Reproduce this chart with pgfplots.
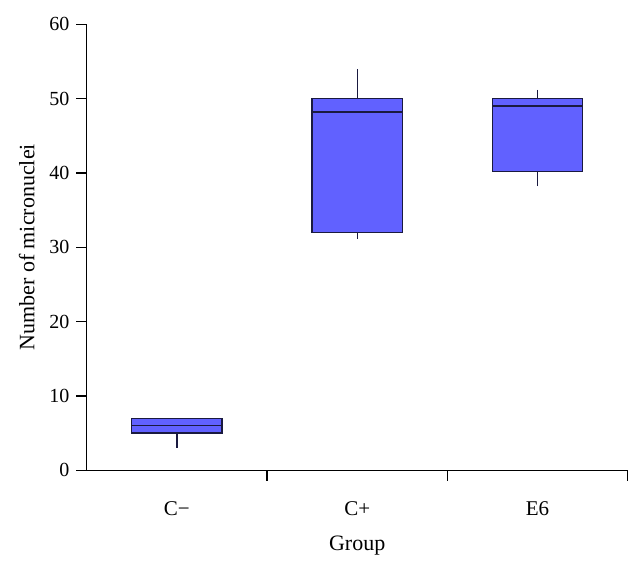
\documentclass[border=0pt]{standalone}
\usepackage{fontspec}
\setmainfont{Liberation Serif}
\usepackage{pgfplots}
\pgfplotsset{compat=1.18}
\usepgfplotslibrary{statistics}
\definecolor{boxfill}{HTML}{6161FF}
\definecolor{boxedge}{HTML}{1A1A40}
\begin{document}
\fontsize{20}{24}\selectfont
\begin{tikzpicture}
\begin{axis}[
  scale only axis, width=541pt, height=446pt,
  xmin=0.5, xmax=3.5, ymin=0, ymax=60,
  clip=false,
  axis lines*=left,
  axis line style={line width=1.3pt, black},
  tick align=outside,
  tick style={line width=1.3pt, black},
  major tick length=10.5pt,
  ytick={0,10,20,30,40,50,60},
  xtick={1.5,2.5,3.5},
  xticklabels={},
  extra x ticks={1,2,3},
  extra x tick labels={C−,C+,E6},
  extra x tick style={major tick length=0pt, ticklabel style={yshift=-24pt, font=\fontsize{21}{25}\selectfont}},
  /pgf/number format/assume math mode=true,
  ticklabel style={font=\fontsize{20}{24}\selectfont},
  label style={font=\fontsize{22}{26}\selectfont},
  xlabel={Group},
  ylabel={Number of micronuclei},
  xlabel style={at={(axis description cs:0.5,0)}, anchor=center, yshift=-75pt},
  ylabel style={at={(axis description cs:-0.111,0.5)}, anchor=center},
  boxplot/draw direction=y,
  boxplot/box extend=0.5,
  boxplot/whisker extend=0,
]
\addplot[boxplot prepared={median=6, upper quartile=7, lower quartile=5, upper whisker=7, lower whisker=3, draw position=1},
  fill=boxfill, draw=boxedge, line width=1.3pt] coordinates {};
\addplot[boxplot prepared={median=48.2, upper quartile=50, lower quartile=32, upper whisker=54, lower whisker=31.1, draw position=2},
  fill=boxfill, draw=boxedge, line width=1.3pt] coordinates {};
\addplot[boxplot prepared={median=49, upper quartile=50, lower quartile=40.2, upper whisker=51.2, lower whisker=38.2, draw position=3},
  fill=boxfill, draw=boxedge, line width=1.3pt] coordinates {};
\path (rel axis cs:-0.16026,-0.19843) rectangle (rel axis cs:1.02643,1.05448);
\end{axis}
\end{tikzpicture}
\end{document}
